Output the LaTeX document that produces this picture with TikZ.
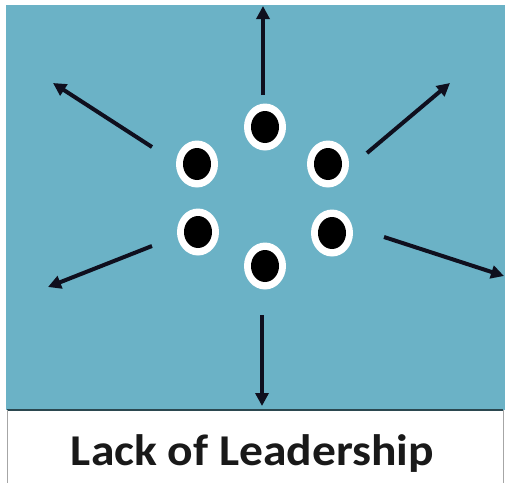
\documentclass[tikz,border=0pt]{standalone}
\usepackage{fontspec}
\setmainfont{Carlito}
\usetikzlibrary{arrows.meta}
\definecolor{bgblue}{RGB}{107,178,198}
\definecolor{arrowc}{RGB}{15,15,30}
\begin{document}
\begin{tikzpicture}[x=1pt,y=-1pt,
  arr/.style={line width=4pt,arrowc,-{Triangle[length=13pt,width=13pt]}},
  outerdot/.style={white},
  innerdot/.style={black}]
\useasboundingbox (0,0) rectangle (506,483);
\fill[white] (0,0) rectangle (506,483);
\fill[bgblue] (6,5) rectangle (505,410);
\draw[line width=1.2pt, black!60!bgblue] (7,410) -- (503,410);
\draw[line width=0.6pt, black!35] (7,410) -- (7,483) (503,410) -- (503,483);
\node[font=\bfseries\fontsize{44}{52}\selectfont, anchor=base, xscale=1.08, inner sep=0pt, text=black!90] (t) at (252.5,465) {Lack of Leadership};
\foreach \n/\x/\y in {a/265/127, b/197/164, c/328/164, d/198/232, e/332/233, f/265/266}{
  \fill[outerdot] (\x,\y) ellipse (21pt and 23.5pt);
  \fill[innerdot] (\x,\y) ellipse (14pt and 16pt);
  \coordinate (\n) at (\x,\y);
}
\coordinate (u0) at (263,95); \coordinate (u1) at (263,6);
\coordinate (ul0) at (152,147); \coordinate (ul1) at (53,83);
\coordinate (ur0) at (367,153); \coordinate (ur1) at (450,83);
\coordinate (ll0) at (152,246); \coordinate (ll1) at (48,287);
\coordinate (lr0) at (384,237); \coordinate (lr1) at (504,276);
\coordinate (d0) at (262,315); \coordinate (d1) at (262,406);
\draw[arr] (u0) -- (u1);
\draw[arr] (ul0) -- (ul1);
\draw[arr] (ur0) -- (ur1);
\draw[arr] (ll0) -- (ll1);
\draw[arr] (lr0) -- (lr1);
\draw[arr] (d0) -- (d1);
\end{tikzpicture}
\end{document}
